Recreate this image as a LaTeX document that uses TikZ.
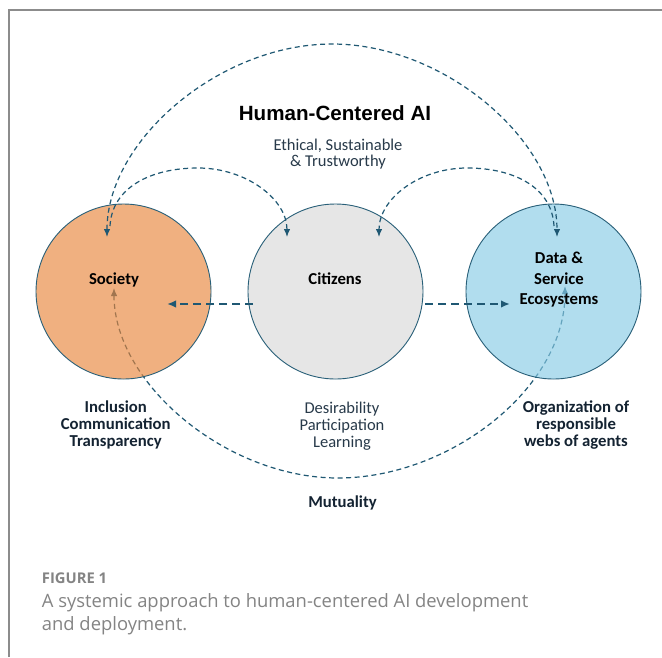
\documentclass[tikz,border=0pt]{standalone}
\usepackage{fontspec}
\setmainfont{Carlito}
\newfontfamily\hfont{Liberation Sans}
\newfontfamily\capfont{Open Sans}
\usetikzlibrary{arrows.meta}
\definecolor{linec}{RGB}{31,88,115}
\definecolor{rimc}{RGB}{40,95,120}
\definecolor{socf}{RGB}{232,134,60}
\definecolor{citf}{RGB}{217,217,217}
\definecolor{datf}{RGB}{136,203,229}
\definecolor{labc}{RGB}{20,35,50}
\definecolor{subc}{RGB}{40,58,74}
\definecolor{framec}{RGB}{140,140,140}
\definecolor{capc}{RGB}{132,132,132}
\begin{document}
\begin{tikzpicture}[x=1pt,y=-1pt,
  circ/.style={circle, draw=rimc, line width=0.9pt, minimum size=175pt, inner sep=0pt, fill opacity=0.65, draw opacity=1},
  thinarc/.style={draw=linec, line width=1.2pt, dash pattern=on 5pt off 3.5pt},
  thintip/.style={-{Latex[length=8pt,width=6.5pt]}},
  bothtip/.style={{Latex[length=8pt,width=6.5pt]}-{Latex[length=8pt,width=6.5pt]}},
  thickarr/.style={draw=linec, line width=2pt, dash pattern=on 8pt off 5pt, -{Latex[length=9pt,width=7.5pt]}},
  lab/.style={anchor=base, inner sep=0pt, text=black, font=\bfseries\fontsize{16.7}{17}\selectfont},
  sublab/.style={anchor=base, inner sep=0pt, text=labc, font=\bfseries\fontsize{16.7}{17}\selectfont},
  reglab/.style={anchor=base, inner sep=0pt, text=subc, font=\fontsize{16.5}{17}\selectfont},
  captxt/.style={anchor=base west, inner sep=0pt, text=capc, font=\capfont\fontsize{18.4}{23}\selectfont}
]
\useasboundingbox (0,0) rectangle (662,657);
\fill[white] (0,0) rectangle (662,657);
\draw[framec, line width=2pt] (8.5,657) -- (8.5,9.5) -- (662,9.5);

% bottom arc (under the circles)
\coordinate (btL) at (114,288);
\coordinate (btBot) at (338,478);
\coordinate (btR) at (565,286);
\draw[thinarc, bothtip] (btL) .. controls (114,383) and (226,478) .. (btBot) .. controls (450,478) and (565,388) .. (btR);

% circles
\node[circ, fill=socf] (soc) at (123.5,291.5) {};
\node[circ, fill=citf] (cit) at (335.5,291.5) {};
\node[circ, fill=datf] (dat) at (553.5,291.5) {};

% big top arc
\coordinate (bigL) at (107,237);
\coordinate (bigTop) at (332,44);
\coordinate (bigR) at (557,237);
\draw[thinarc, bothtip] (bigL) .. controls (107,140.5) and (219.5,44) .. (bigTop) .. controls (444.5,44) and (557,140.5) .. (bigR);

% small arcs
\coordinate (slS) at (110,226);
\coordinate (slTop) at (198,168);
\coordinate (slE) at (287,237);
\draw[thinarc, thintip] (slS) .. controls (112,188) and (150,168) .. (slTop) .. controls (246,168) and (287,199) .. (slE);
\coordinate (srS) at (554,226);
\coordinate (srTop) at (467,168);
\coordinate (srE) at (379,237);
\draw[thinarc, thintip] (srS) .. controls (552,188) and (515,168) .. (srTop) .. controls (419,168) and (379,199) .. (srE);

% horizontal arrows
\coordinate (hl1) at (253,304);
\coordinate (hl2) at (167,304);
\coordinate (hr1) at (425,304);
\coordinate (hr2) at (510,304);
\draw[thickarr] (hl1) -- (hl2);
\draw[thickarr] (hr1) -- (hr2);

% titles
\node[anchor=base, inner sep=0pt, font=\hfont\bfseries\fontsize{20.6}{24}\selectfont] (title) at (335,120) {Human-Centered AI};
\node[reglab] (eth1) at (338,150.5) {Ethical, Sustainable};
\node[reglab] (eth2) at (338,166) {\& Trustworthy};

% circle labels
\node[lab] (socl) at (114,284) {Society};
\node[lab] (citl) at (335,284) {Citizens};
\node[lab] (datl1) at (559,263.5) {Data \&};
\node[lab] (datl2) at (559,284) {Service};
\node[lab] (datl3) at (559,304) {Ecosystems};

% lower labels
\node[sublab] (inc1) at (115.7,412) {Inclusion};
\node[sublab] (inc2) at (115.7,429) {Communication};
\node[sublab] (inc3) at (115.7,446) {Transparency};
\node[reglab] (des1) at (342,413) {Desirability};
\node[reglab] (des2) at (342,430) {Participation};
\node[reglab] (des3) at (342,447) {Learning};
\node[sublab] (org1) at (576,412) {Organization of};
\node[sublab] (org2) at (576,429) {responsible};
\node[sublab] (org3) at (576,446) {webs of agents};
\node[sublab] (mut) at (342.5,507) {Mutuality};

% caption
\node[anchor=base west, inner sep=0pt, text=capc, font=\capfont\bfseries\fontsize{14.8}{18}\selectfont] (fig) at (41.7,583) {FIGURE 1};
\node[captxt] (cap1) at (41.7,607.3) {A systemic approach to human-centered AI development};
\node[captxt] (cap2) at (41.7,630) {and deployment.};
\end{tikzpicture}
\end{document}
